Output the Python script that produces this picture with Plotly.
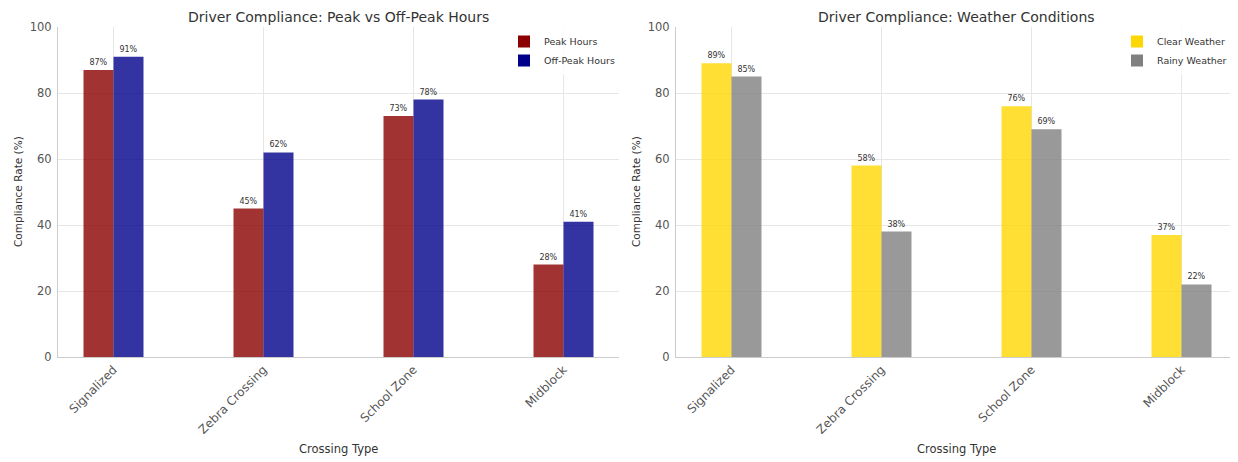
import plotly.graph_objects as go

categories = ["Signalized", "Zebra Crossing", "School Zone", "Midblock"]
peak_hours = [87, 45, 73, 28]
off_peak_hours = [91, 62, 78, 41]
clear_weather = [89, 58, 76, 37]
rainy_weather = [85, 38, 69, 22]
y_ticks = [0, 20, 40, 60, 80, 100]

W, H = 1238, 462
OFF = 8  # page body margin offset
FONT = "DejaVu Sans"
TXT = "#333333"


def px(x):
    return (x - OFF) / W


def py(y):
    return 1 - (y - OFF) / H


fig = go.Figure()


def add_bar(name, vals, color, xa, ya, legend):
    fig.add_trace(go.Bar(
        x=categories, y=vals, name=name,
        marker=dict(color=color, opacity=0.8, line=dict(width=0)),
        text=[f"{v}%" for v in vals], texttemplate="%{text}",
        textposition="outside", cliponaxis=False, constraintext="none",
        textfont=dict(size=8, color=TXT, family=FONT),
        xaxis=xa, yaxis=ya, legend=legend,
    ))


add_bar("Peak Hours", peak_hours, "darkred", "x", "y", "legend")
add_bar("Off-Peak Hours", off_peak_hours, "darkblue", "x", "y", "legend")
add_bar("Clear Weather", clear_weather, "gold", "x2", "y2", "legend2")
add_bar("Rainy Weather", rainy_weather, "gray", "x2", "y2", "legend2")

yd = [py(357), py(27)]
xd1 = [px(58), px(619)]
xd2 = [px(676), px(1237)]

axis_common = dict(
    showgrid=True, gridcolor="#e6e6e6", gridwidth=1,
    showline=True, linecolor="#cccccc", linewidth=1,
    ticks="", zeroline=False,
    tickfont=dict(size=11.5, color="#555555", family=FONT),
)
xcommon = dict(axis_common, type="category", range=[-0.37, 3.37], tickangle=-45,
               tickfont=dict(size=12, color="#555555", family=FONT))
ycommon = dict(axis_common, range=[0, 100], tickvals=y_ticks, ticklabelstandoff=3)

leg = dict(yanchor="top", xanchor="right", bgcolor="rgba(255,255,255,0.8)",
           font=dict(size=9.5, color=TXT, family=FONT), tracegroupgap=0)

fig.update_layout(
    width=W, height=H,
    margin=dict(l=0, r=0, t=0, b=0),
    paper_bgcolor="white", plot_bgcolor="white",
    barmode="group", bargap=0.6, bargroupgap=0,
    font=dict(family=FONT, color=TXT),
    xaxis=dict(xcommon, domain=xd1, anchor="y", automargin=False),
    yaxis=dict(ycommon, domain=yd, anchor="x", automargin=False),
    xaxis2=dict(xcommon, domain=xd2, anchor="y2", automargin=False),
    yaxis2=dict(ycommon, domain=yd, anchor="x2", automargin=False),
    legend=dict(leg, x=px(620), y=py(27)),
    legend2=dict(leg, x=px(1232), y=py(27)),
    showlegend=True,
)

annos = [
    dict(text="Driver Compliance: Peak vs Off-Peak Hours", x=px((58 + 619) / 2), y=py(16.5), size=14, angle=0),
    dict(text="Driver Compliance: Weather Conditions", x=px((676 + 1237) / 2), y=py(16.5), size=14, angle=0),
    dict(text="Crossing Type", x=px((58 + 619) / 2), y=py(449), size=11.5, angle=0),
    dict(text="Crossing Type", x=px((676 + 1237) / 2), y=py(449), size=11.5, angle=0),
    dict(text="Compliance Rate (%)", x=px(18), y=py(192), size=10.5, angle=-90),
    dict(text="Compliance Rate (%)", x=px(636), y=py(192), size=10.5, angle=-90),
]
for a in annos:
    fig.add_annotation(text=a["text"], x=a["x"], y=a["y"], xref="paper", yref="paper",
                       xanchor="center", yanchor="middle", showarrow=False, textangle=a["angle"],
                       font=dict(size=a["size"], color=TXT, family=FONT))

fig.write_html("out.html")
